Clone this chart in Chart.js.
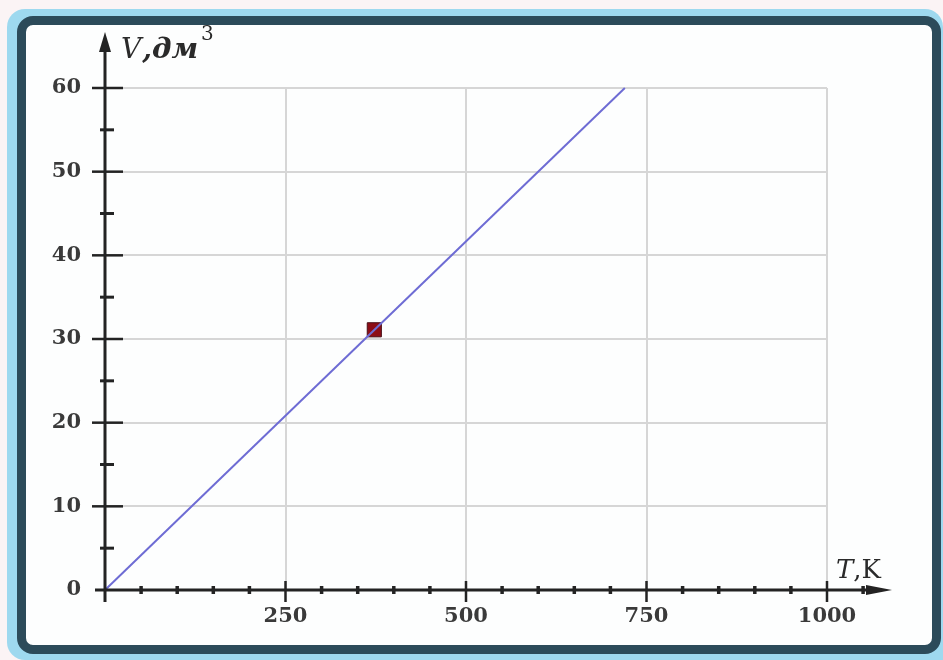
<!DOCTYPE html>
<html>
<head>
<meta charset="utf-8">
<script src="https://cdn.jsdelivr.net/npm/chart.js@4.4.1/dist/chart.umd.min.js"></script>
<style>
  html, body { margin: 0; padding: 0; background: #fbf4f5; }
  #outer {
    position: absolute; left: 7px; top: 9px; right: 0; bottom: 0;
    background: #9ed9ef;
    border-radius: 18px 18px 0 18px;
  }
  #frame {
    position: absolute; left: 17px; top: 16px; width: 906px; height: 620px;
    background: #fdfefe;
    border: 9px solid #2c4b5a;
    border-radius: 16px;
  }
  #chart { position: absolute; left: 0; top: 0; }
</style>
</head>
<body>
<div id="outer"></div>
<div id="frame"></div>
<canvas id="chart" width="943" height="660"></canvas>
<script>
"use strict";

// V = f(T), straight line through origin
const lineT = [0, 720];
const lineV = [0, 60];
const pointT = [373];
const pointV = [31.1];
const xTickLabels = [250, 500, 750, 1000];
const yTickLabels = [0, 10, 20, 30, 40, 50, 60];

const axisColor = "#232323";
const labelFont = "'DejaVu Serif', 'Liberation Serif', serif";

// axes with arrows, minor ticks and the V / T labels
const axesPlugin = {
    id: "axes",
    afterDraw(chart) {
        let ctx = chart.ctx;
        let xs = chart.scales.x, ys = chart.scales.y;
        let x0 = xs.getPixelForValue(0), y0 = ys.getPixelForValue(0);
        ctx.save();
        ctx.strokeStyle = axisColor;
        ctx.fillStyle = axisColor;
        ctx.lineWidth = 3;

        // y axis
        ctx.beginPath();
        ctx.moveTo(x0, y0 + 12);
        ctx.lineTo(x0, 48);
        ctx.stroke();
        ctx.beginPath();
        ctx.moveTo(x0, 32);
        ctx.lineTo(x0 - 6, 52);
        ctx.lineTo(x0 + 6, 52);
        ctx.closePath();
        ctx.fill();

        // x axis
        ctx.beginPath();
        ctx.moveTo(x0 - 10, y0);
        ctx.lineTo(872, y0);
        ctx.stroke();
        ctx.beginPath();
        ctx.moveTo(892, y0);
        ctx.lineTo(866, y0 - 5);
        ctx.lineTo(866, y0 + 5);
        ctx.closePath();
        ctx.fill();

        // y ticks every 5
        for (let v = 5; v <= 60; v += 5) {
            let py = ys.getPixelForValue(v);
            ctx.beginPath();
            if (v % 10 === 0) {
                ctx.lineWidth = 2.5;
                ctx.moveTo(x0 - 13, py);
                ctx.lineTo(x0 + 18, py);
            } else {
                ctx.lineWidth = 3;
                ctx.moveTo(x0 - 5, py);
                ctx.lineTo(x0 + 9, py);
            }
            ctx.stroke();
        }

        // x ticks every 50
        for (let t = 50; t <= 1050; t += 50) {
            let px = xs.getPixelForValue(t);
            ctx.beginPath();
            if (t % 250 === 0) {
                ctx.lineWidth = 2.5;
                ctx.moveTo(px, y0 - 9);
                ctx.lineTo(px, y0 + 12);
            } else {
                ctx.lineWidth = 3.5;
                ctx.moveTo(px, y0 - 4);
                ctx.lineTo(px, y0 + 4);
            }
            ctx.stroke();
        }

        // axis titles
        ctx.fillStyle = "#2a2a2a";
        ctx.textBaseline = "alphabetic";
        ctx.textAlign = "left";
        ctx.font = "italic 28px " + labelFont;
        ctx.fillText("V", 121, 58);
        let x = 121 + ctx.measureText("V").width + 1;
        ctx.font = "bold italic 28px " + labelFont;
        ctx.fillText(",дм", x, 58);
        x += ctx.measureText(",дм").width + 3;
        ctx.font = "20px " + labelFont;
        ctx.fillText("3", x, 40);

        ctx.font = "italic 26px " + labelFont;
        ctx.fillText("T", 836, 578);
        x = 836 + ctx.measureText("T").width;
        ctx.font = "26px " + labelFont;
        ctx.fillText(",K", x, 578);
        ctx.restore();
    }
};

let ctx = document.getElementById("chart").getContext("2d");
let chart = new Chart(ctx, {
    type: "scatter",
    data: {
        datasets: [{
            label: "V(T)",
            data: lineT.map((t, i) => ({ x: t, y: lineV[i] })),
            showLine: true,
            borderColor: "#6e6cd4",
            borderWidth: 2,
            pointRadius: 0,
            fill: false
        }, {
            label: "point",
            data: pointT.map((t, i) => ({ x: t, y: pointV[i] })),
            pointStyle: "rect",
            pointRadius: 10,
            backgroundColor: "#8c0d16",
            borderColor: "#4a1018",
            borderWidth: 1
        }]
    },
    plugins: [axesPlugin],
    options: {
        responsive: false,
        animation: false,
        clip: false,
        layout: { padding: { left: 0, top: 88, right: 116, bottom: 0 } },
        plugins: { legend: { display: false }, tooltip: { enabled: false } },
        scales: {
            x: {
                type: "linear",
                min: 0,
                max: 1000,
                afterFit: s => { s.height = 70; },
                afterBuildTicks: s => { s.ticks = xTickLabels.map(v => ({ value: v })); },
                border: { display: false },
                grid: { color: "#d6d6d6", lineWidth: 2, drawTicks: false },
                ticks: {
                    padding: 14,
                    color: "#3a3a3a",
                    callback: v => String(v),
                    font: { family: labelFont, size: 21, weight: "bold" }
                }
            },
            y: {
                type: "linear",
                min: 0,
                max: 60,
                afterFit: s => { s.width = 105; },
                afterBuildTicks: s => { s.ticks = yTickLabels.map(v => ({ value: v })); },
                border: { display: false },
                grid: { color: "#d6d6d6", lineWidth: 2, drawTicks: false },
                ticks: {
                    padding: 24,
                    color: "#3a3a3a",
                    callback: v => String(v),
                    font: { family: labelFont, size: 21, weight: "bold" }
                }
            }
        }
    }
});
</script>
</body>
</html>
